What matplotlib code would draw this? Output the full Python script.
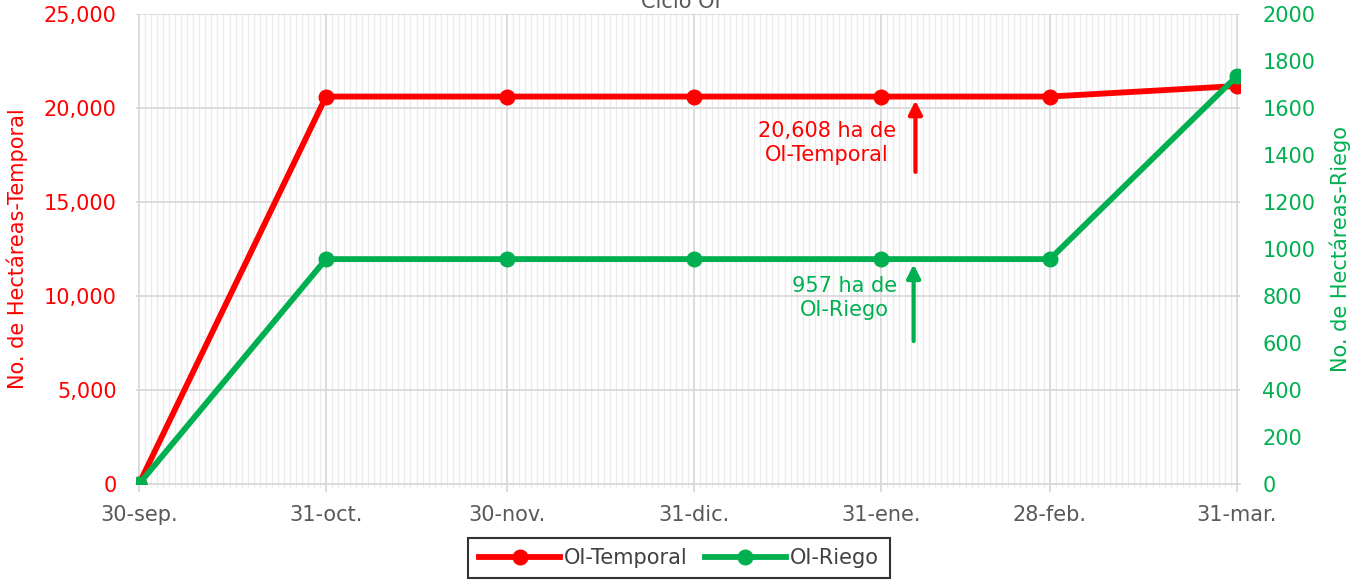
import matplotlib
matplotlib.use("Agg")
import matplotlib.pyplot as plt
import matplotlib.dates as mdates
import numpy as np
from datetime import datetime

# ---- data ----
dates = ["2022-09-30", "2022-10-31", "2022-11-30", "2022-12-31",
         "2023-01-31", "2023-02-28", "2023-03-31"]
tick_labels = ["30-sep.", "31-oct.", "30-nov.", "31-dic.", "31-ene.", "28-feb.", "31-mar."]
temporal = [0, 20608, 20608, 20608, 20608, 20608, 21170]
riego = [0, 957, 957, 957, 957, 957, 1736]

RED = "#FF0000"
GREEN = "#00B050"
GRAY = "#595959"
FS = 15

plt.rcParams['font.family'] = ['DejaVu Sans']

x = [datetime.strptime(d, "%Y-%m-%d") for d in dates]
xn = mdates.date2num(x)

fig = plt.figure(figsize=(13.62, 5.81), dpi=100)
ax = fig.add_axes([136/1362, 1-484/581, (1240-136)/1362, (484-14)/581])
ax2 = ax.twinx()

ax.set_xlim(xn[0]-0.5, xn[-1]+0.5)
ax.set_ylim(0, 25000)
ax2.set_ylim(0, 2000)

# grids
ax.set_xticks(xn)
ax.set_xticklabels(tick_labels)
ax.set_xticks(np.arange(xn[0], xn[-1]+1, 1), minor=True)
ax.grid(which='minor', axis='x', color='#ebebeb', lw=1.0)
ax.grid(which='major', axis='x', color='#d9d9d9', lw=1.3)
ax.set_yticks(np.arange(0, 25001, 5000))
ax.set_yticklabels([f"{v:,}" for v in range(0, 25001, 5000)])
ax.grid(which='major', axis='y', color='#d9d9d9', lw=1.3)
ax.set_axisbelow(True)
ax2.set_yticks(np.arange(0, 2001, 200))

for a in (ax, ax2):
    for s in a.spines.values():
        s.set_visible(False)
ax.spines['bottom'].set_visible(True)
ax.spines['bottom'].set_color('#d9d9d9')
ax.spines['bottom'].set_linewidth(1.3)

ax.tick_params(axis='x', which='major', length=6, color='#d9d9d9', width=1.3,
               labelsize=FS, labelcolor=GRAY, pad=9)
ax.tick_params(axis='x', which='minor', length=3, color='#f0f0f0', width=1)
ax.tick_params(axis='y', length=0, labelsize=FS, labelcolor=RED, pad=14)
ax2.tick_params(axis='y', length=0, labelsize=FS, labelcolor=GREEN, pad=16)

ax.set_ylabel("No. de Hectáreas-Temporal", color=RED, fontsize=FS, labelpad=11)
ax2.set_ylabel("No. de Hectáreas-Riego", color=GREEN, fontsize=FS, labelpad=10)

l1, = ax.plot(xn, temporal, color=RED, lw=4.2, marker='o', ms=10.5, label="OI-Temporal", zorder=3)
l2, = ax2.plot(xn, riego, color=GREEN, lw=4.2, marker='o', ms=10.5, label="OI-Riego", zorder=3)

# annotations
ax_x = xn[4] + 5.7
ax.annotate("", xy=(ax_x, 20400), xytext=(ax_x, 16600),
            arrowprops=dict(arrowstyle="-|>,head_length=0.8,head_width=0.4", color=RED, lw=3, shrinkA=0, shrinkB=0))
ax.text(xn[4] - 9.0, 18150, "20,608 ha de\nOI-Temporal", color=RED, fontsize=FS,
        ha='center', va='center', linespacing=1.25)
ax2_x = xn[4] + 5.4
ax2.annotate("", xy=(ax2_x, 935), xytext=(ax2_x, 608),
             arrowprops=dict(arrowstyle="-|>,head_length=0.8,head_width=0.4", color=GREEN, lw=3, shrinkA=0, shrinkB=0))
ax2.text(xn[4] - 6, 790, "957 ha de\nOI-Riego", color=GREEN, fontsize=FS,
         ha='center', va='center', linespacing=1.25)

fig.text(0.5, 1-8/581, "Ciclo OI", ha='center', va='baseline', fontsize=FS, color=GRAY)

leg = fig.legend(handles=[l1, l2], loc='center', bbox_to_anchor=(679/1362, 1-558/581),
                 ncol=2, frameon=True, fancybox=False, edgecolor='black', fontsize=FS,
                 handlelength=3.9, columnspacing=0.8, handletextpad=0.2, borderpad=0.5)
leg.get_frame().set_linewidth(1.5)
for t in leg.get_texts():
    t.set_color("#404040")

fig.savefig("out.png", dpi=100)
